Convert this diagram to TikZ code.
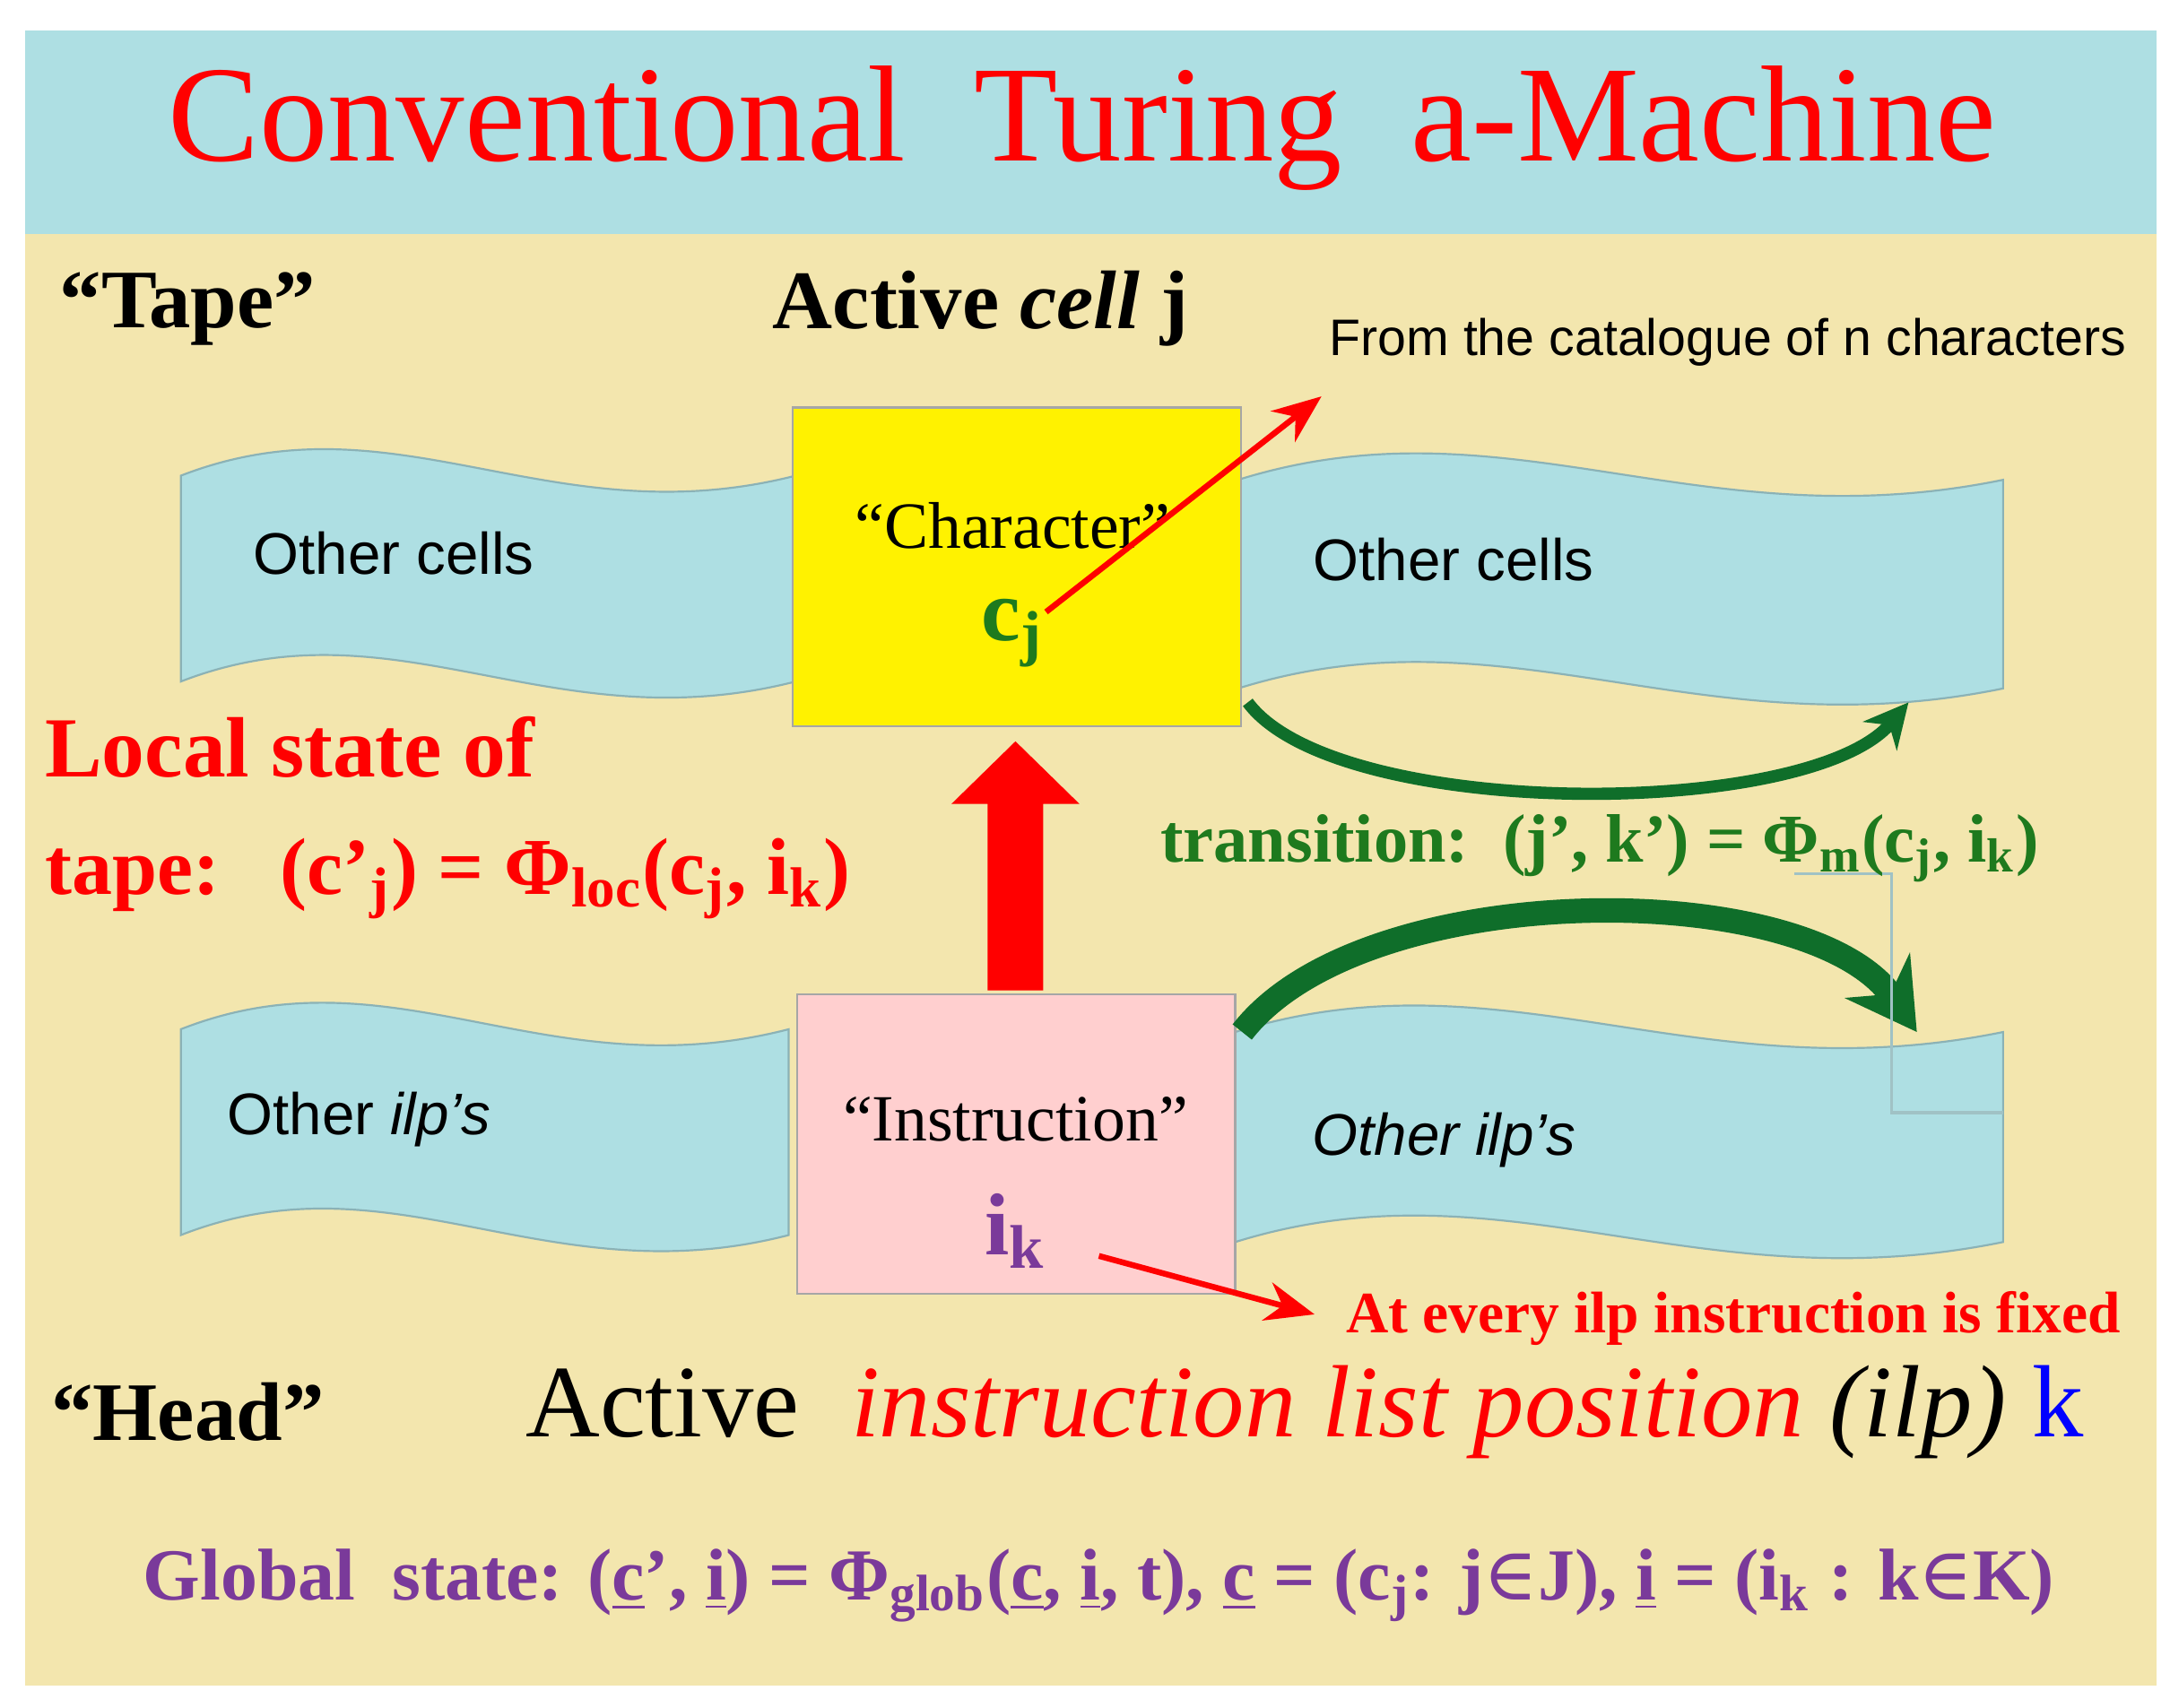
\documentclass[tikz,border=0pt]{standalone}
\usepackage{fontspec}
\setmainfont{Liberation Serif}
\setsansfont{Liberation Sans}
\newfontfamily\symf{DejaVu Serif}
\usetikzlibrary{arrows.meta}
\definecolor{bgbeige}{HTML}{F3E6AE}
\definecolor{bandblue}{HTML}{AEDFE3}
\definecolor{tapeblue}{HTML}{AEDFE3}
\definecolor{tgreen}{HTML}{1E7A1E}
\definecolor{dgreen}{HTML}{0F6E2A}
\definecolor{purp}{HTML}{7A3A9A}
\newcommand{\fs}[1]{\fontsize{#1}{#1}\selectfont}
\newcommand{\sbs}[1]{\textsubscript{#1}}
\newcommand{\elm}{{\symf\mdseries ∈}}
\newcommand{\mytape}[4]{%
 \path[tapefill] (#1,#3) .. controls ({#1+(#2-#1)*0.35},{#3-60}) and ({#1+(#2-#1)*0.6},{#3+45}) .. (#2,#3)
  -- (#2,#4) .. controls ({#1+(#2-#1)*0.6},{#4+45}) and ({#1+(#2-#1)*0.35},{#4-60}) .. (#1,#4) -- cycle;}
\tikzset{tapefill/.style={fill=tapeblue,draw=tapeblue!80!black,line width=0.4pt},
 lbl/.style={font=\sffamily\fs{12}},
 redarr/.style={red,line width=1.2pt,-{Stealth[length=10pt,width=8pt]}}}
\begin{document}
\begin{tikzpicture}[x=0.01cm,y=-0.01cm]
\useasboundingbox (0,0) rectangle (1560,1228);
\fill[white] (0,0) rectangle (1560,1228);
\fill[bgbeige] (18,22) rectangle (1550,1212);
\fill[bandblue] (18,22) rectangle (1550,168);
\node (title) at (778,92) {\fs{28}\color{red}Conventional\ \ Turing\ \ a-Machine};
\node (tape) at (135,222) {\fs{17}\bfseries “Tape”};
\node (act) at (705,222) {\fs{17}\bfseries Active \textit{cell} j};
\node (cat) at (1242,246) {\sffamily\fs{10.5}From the catalogue of n characters};
% upper tape
\mytape{130}{572}{342}{490}
\mytape{890}{1440}{345}{495}
\node (lo1) at (283,398) [lbl] {Other cells};
\node (ro1) at (1045,402) [lbl] {Other cells};
\fill[yellow,draw=gray!70] (570,293) rectangle (892,522);
\node (chartxt) at (728,378) {\fs{13.5}“Character”};
\node (cj) at (728,455) {\fs{18}\bfseries\color{tgreen}c\sbs{j}};
\coordinate (cjs) at (752,440);
\coordinate (cjt) at (950,285);
\draw[redarr] (cjs) -- (cjt);
\coordinate (g1) at (897,505);
\coordinate (g2) at (1372,505);
\draw[dgreen,line width=2.5pt,-{Stealth[length=9pt,width=9pt]}] (g1) .. controls (960,590) and (1300,590) .. (g2);
% lower tape
\mytape{130}{567}{740}{888}
\mytape{888}{1440}{742}{893}
\fill[pink!75!white,draw=gray!70] (573,715) rectangle (888,930);
\node (lo2) at (258,805) [lbl] {Other \textit{ilp’s}};
\node (ro2) at (1038,820) [lbl] {\textit{Other ilp’s}};
\node (instr) at (730,805) {\fs{13.5}“Instruction”};
\node (ik) at (730,885) {\fs{18}\bfseries\color{purp}i\sbs{k}};
\fill[red] (710,712) -- (750,712) -- (750,578) -- (776,578) -- (730,533) -- (684,578) -- (710,578) -- cycle;
\coordinate (h1) at (893,742);
\coordinate (h2) at (1378,742);
\draw[dgreen,line width=5pt,-{Stealth[length=14pt,width=16pt]}] (h1) .. controls (980,630) and (1300,630) .. (h2);
\draw[bandblue!70!gray,line width=0.6pt] (1290,628) -- (1360,628) -- (1360,800) -- (1440,800);
\node[anchor=west] (loc1) at (20,537) {\fs{17.5}\bfseries\color{red}Local state of};
\node[anchor=west] (loc2) at (20,632) {\fs{16.5}\bfseries\color{red}tape:\ \ \ (c’\sbs{j}) = Φ\sbs{loc}(c\sbs{j}, i\sbs{k})};
\node (trans) at (1150,610) {\fs{14}\bfseries\color{tgreen}transition:\ \ (j’,\ k’) = Φ\sbs{m}(c\sbs{j}, i\sbs{k})};
\coordinate (iks) at (790,903);
\coordinate (ikt) at (945,945);
\draw[redarr] (iks) -- (ikt);
\node (fixed) at (1246,948) {\fs{12}\bfseries\color{red}At every ilp instruction is fixed};
\node (head) at (135,1015) {\fs{17}\bfseries “Head”};
\node (ilp) at (938,1015) {\fs{21}Active\ \ \color{red}\textit{instruction list position} \color{black}\textit{(ilp)} \color{blue}k};
\node (glob) at (790,1140) {\fs{15}\bfseries\color{purp}Global\ \ state: (\underline{c}’, \underline{i}) = Φ\sbs{glob}(\underline{c}, \underline{i}, t), \underline{c} = (c\sbs{j}: j\elm J), \underline{i} = (i\sbs{k} : k\elm K)};
\end{tikzpicture}
\end{document}
